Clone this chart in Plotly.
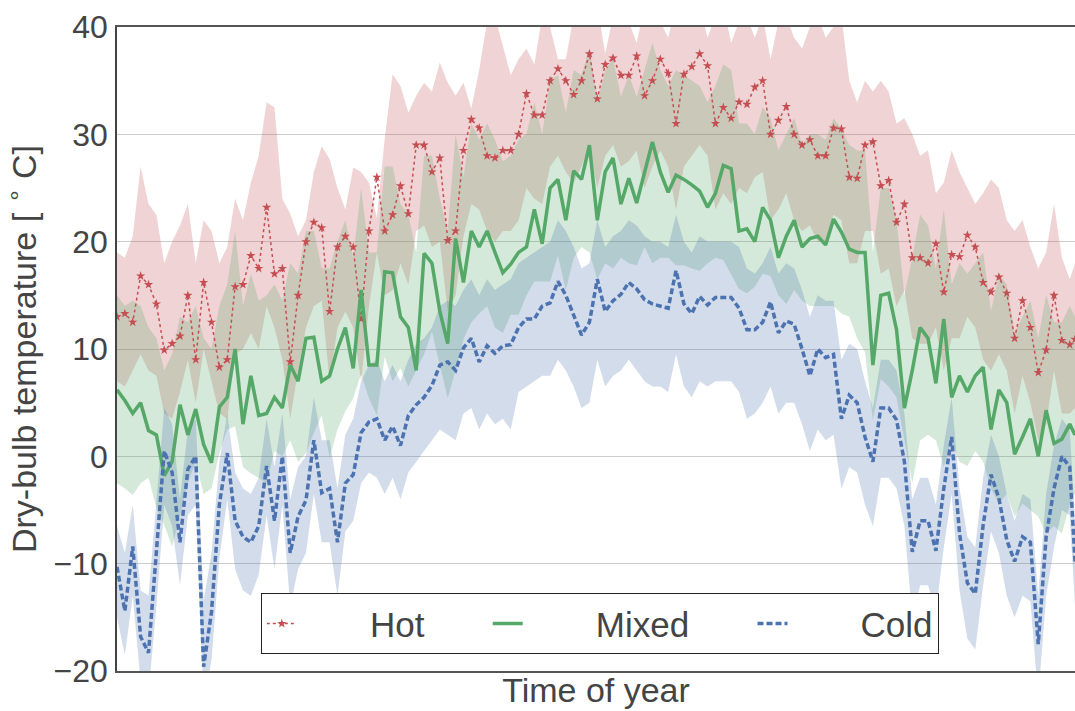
import plotly.graph_objects as go

# day of year for every sample (one reading every 3 days, last one on day 365)
days = list(range(0, 364, 3)) + [365]

hot_mean = [13.0, 13.3, 12.5, 16.8, 16.0, 14.2, 9.9, 10.5, 11.2, 15.0,
            9.0, 16.2, 12.5, 8.3, 9.0, 15.8, 16.0, 18.7, 17.5, 23.2,
            17.0, 17.5, 8.8, 15.0, 20.0, 21.8, 21.3, 13.5, 19.5, 20.5,
            19.5, 12.8, 21.0, 26.0, 21.0, 22.5, 25.2, 22.6, 29.0, 29.0,
            26.5, 27.8, 20.1, 21.0, 28.5, 31.4, 30.6, 28.0, 27.8, 28.5,
            28.5, 30.0, 33.8, 31.8, 31.8, 35.0, 36.1, 35.0, 33.7, 35.0,
            37.5, 33.3, 36.5, 37.1, 35.5, 35.5, 37.3, 33.6, 35.0, 37.0,
            35.7, 31.0, 35.6, 36.3, 37.5, 36.4, 31.0, 32.5, 31.5, 33.0,
            32.8, 34.4, 35.0, 30.0, 31.3, 32.6, 30.0, 29.0, 29.5, 28.0,
            28.0, 30.6, 30.5, 26.0, 25.9, 29.0, 29.3, 25.2, 25.7, 21.8,
            23.5, 18.5, 18.5, 18.0, 19.8, 15.3, 18.8, 18.6, 20.6, 19.5,
            16.2, 15.3, 16.7, 15.2, 11.0, 14.5, 12.0, 7.8, 9.9, 15.0,
            10.8, 10.4, 10.9]
hot_hi = [19, 18.5, 20.5, 27, 23.5, 22.5, 18, 20, 21.5, 23.5,
          18, 22, 21, 18, 19.5, 24, 22, 25.5, 28, 33,
          32.5, 24, 22.6, 20.5, 22, 26.5, 28.9, 27.7, 25, 23,
          26.9, 26.5, 25.5, 22.2, 29.6, 35.6, 34.5, 32, 33.6, 34.8,
          34, 36.7, 34.8, 33.6, 34.8, 32.4, 36, 40.5, 41, 38.3,
          35.5, 37, 38, 36.5, 41, 40, 37, 37, 41, 42,
          41, 42, 37.5, 41, 42, 40.5, 38.5, 42, 41, 40.5,
          39, 42, 40, 41.5, 42, 39, 41, 42, 38.5, 40.5,
          41, 39, 41, 37, 40.5, 41, 39, 38, 40, 41,
          39, 40, 41, 35, 33, 35, 34, 35, 34, 31,
          31.5, 30, 28, 28.5, 24.5, 25.5, 28.5, 26.5, 25, 23.5,
          24.5, 25.8, 25, 22, 21, 22, 19.5, 17.5, 19, 23.5,
          18.5, 16.5, 18]
hot_lo = [7, 6.5, 8, 9.5, 8, 7.5, 4, 3.5, 6, 9,
          5, 10, 7, 4, 3.5, 9.5, 10, 11.5, 10, 14,
          12, 9, 3.5, 8, 12, 14, 14.5, 7, 12, 13.5,
          12, 7, 14, 19, 15, 15.5, 18, 16, 21, 21.5,
          19.5, 20, 13.5, 15, 20.5, 23.5, 23, 21, 20, 21,
          21, 22, 25, 24, 23.5, 27, 28, 26.5, 25.5, 27,
          29, 25, 28, 29, 27, 27.5, 28.5, 25, 27, 28.5,
          27, 23, 27, 28, 29, 28, 23, 24.5, 23.5, 25,
          24.5, 26, 26.5, 22, 23, 24.5, 22, 21, 21.5, 20,
          20, 22.5, 22, 18, 18, 21, 21, 17, 17.5, 14,
          15.5, 11, 10.5, 10.5, 12, 8, 11, 11, 13, 12,
          9, 8, 9.5, 8, 4, 7.5, 5, 1.5, 3, 8,
          4, 4, 4.5]

mixed_mean = [6.2, 5.2, 4.0, 5.0, 2.4, 2.0, -1.8, -0.5, 4.8, 2.0,
              4.4, 1.1, -0.6, 4.6, 5.5, 10.0, 3.0, 7.5, 3.8, 4.0,
              5.5, 4.5, 8.5, 7.0, 11.0, 11.1, 7.0, 7.5, 10.0, 12.0,
              8.2, 15.5, 8.5, 8.5, 17.2, 17.1, 13.0, 12.0, 8.0, 18.9,
              18.0, 13.5, 10.5, 20.3, 16.2, 21.0, 19.5, 21.0, 19.0, 17.1,
              17.9, 19.0, 19.5, 23.0, 19.8, 25.0, 25.8, 22.0, 26.6, 25.8,
              29.0, 22.0, 26.5, 27.8, 23.5, 25.9, 23.6, 26.3, 29.3, 26.5,
              24.6, 26.2, 25.8, 25.3, 24.7, 23.2, 24.5, 27.1, 26.8, 21.0,
              21.2, 20.0, 23.2, 22.0, 18.5, 20.5, 22.0, 19.5, 20.3, 20.5,
              19.7, 22.1, 20.9, 19.3, 19.0, 19.0, 8.5, 15.0, 15.2, 11.8,
              4.5, 8.0, 12.0, 11.0, 6.8, 12.8, 5.5, 7.5, 6.0, 7.5,
              8.3, 2.5, 6.2, 5.0, 0.2, 1.8, 3.5, 0.0, 4.3, 1.2,
              1.6, 3.0, 2.0]
mixed_hi = [15, 14, 14.5, 14, 12, 11, 8, 9.5, 13, 12.5,
            14, 11, 10, 14, 16, 21, 14, 17, 14.5, 15,
            16, 14.5, 18, 17, 21, 21, 17.5, 17.5, 20, 22,
            18.5, 25, 19, 19, 27, 27, 23.5, 22.5, 19, 28,
            28, 24, 21, 30, 26, 31, 29.5, 31, 29.5, 27.5,
            28, 29.5, 30, 33, 30, 35, 35.5, 32, 36, 35.5,
            38, 33, 36, 37, 33.5, 35.5, 33.5, 36, 38.5, 36,
            34.5, 36, 35.5, 35, 34.5, 33, 34.5, 36.5, 36, 31,
            31, 30, 32.5, 31.5, 28.5, 30, 31.5, 29, 30, 30,
            29.5, 31.5, 30.5, 29, 28.5, 28.5, 19, 25, 25, 22,
            15, 18.5, 22.5, 21.5, 17.5, 23, 16, 18, 17, 18,
            19, 13.5, 17, 16, 11.5, 13, 14.5, 11, 15, 12.5,
            12.5, 14, 13]
mixed_lo = [-2.5, -3.0, -3.6, -2.5, -2.0, -4.8, -6.4, -8.4, -5.6, -2.5,
            -0.5, -3.5, -3.0, 0.3, 2.5, 2.8, -1.0, -1.6, -2.0, -2.5,
            0.5, 0.0, 1.5, -0.5, 0.3, 2.2, 3.8, -0.1, 2.5, 4.2,
            5.4, 7.7, 5.4, 3.8, 9.3, 7.0, 8.2, 6.5, 8.0, 9.5,
            11.6, 8.5, 5.4, 8.0, 10.9, 12.5, 13.3, 14.0, 12.0, 11.5,
            13.2, 13.2, 15.0, 16.3, 16.3, 16.3, 18.7, 15.5, 18.5, 19.5,
            19.0, 16.5, 18.0, 17.5, 18.5, 18.0, 17.8, 19.5, 18.0, 18.5,
            18.5, 17.8, 17.8, 17.5, 17.3, 18.0, 18.5, 18.3, 17.0, 15.6,
            15.2, 15.8, 17.0, 16.8, 15.0, 14.2, 15.5, 14.5, 14.0, 14.0,
            14.0, 14.0, 13.3, 13.0, 11.0, 9.7, 3.4, 7.2, 6.5, 5.5,
            1.5, -2.5, 1.5, 2.0, 1.5, -1.0, 1.5, -0.5, -0.9, 0.5,
            -0.5, -3.0, -4.4, -3.5, -5.6, -4.4, -5.0, -5.6, -7.2, -6.5,
            -7.2, -4.5, -3.5]

cold_mean = [-10.3, -14.4, -8.4, -16.8, -18.3, -9.0, 0.5, -1.5, -8.0, -1.2,
             0.0, -19.6, -14.5, -4.5, 0.3, -6.0, -7.5, -8.0, -6.5, -0.9,
             -6.0, 0.0, -9.0, -5.6, -4.1, 1.5, -3.4, -3.0, -8.0, -2.5,
             -1.7, 2.2, 3.2, 3.5, 1.5, 2.8, 1.0, 3.8, 4.8, 5.5,
             6.6, 8.5, 8.8, 8.0, 10.1, 11.0, 8.8, 10.3, 9.6, 10.3,
             10.4, 12.0, 12.8, 12.8, 14.0, 14.3, 16.3, 15.0, 13.2, 11.3,
             12.5, 16.5, 13.5, 14.5, 15.1, 16.2, 15.6, 14.6, 14.2, 14.0,
             13.8, 17.3, 14.2, 13.3, 14.9, 14.1, 14.8, 14.8, 14.8, 13.8,
             11.8, 11.8, 12.5, 14.4, 11.5, 12.6, 12.3, 10.0, 7.5, 10.0,
             9.2, 9.5, 3.5, 5.7, 5.0, 1.8, -0.5, 4.5, 4.5, 3.4,
             -0.5, -8.9, -6.0, -6.0, -8.8, -3.0, 1.8, -7.2, -11.8, -12.8,
             -6.4, -1.7, -3.9, -7.8, -9.8, -7.5, -8.0, -17.5, -7.5, -3.0,
             0.0, -1.0, -9.8]
cold_hi = [-6.5, -9, -4.5, -12.5, -13, -4.5, 4.5, 3, -4, 2.5,
           3.5, -13.5, -9, -0.5, 4, -1.5, -3, -3.5, -2, 3.5,
           -1, 4, -4, -1, 0, 5.5, 1.5, 1.5, -3, 2,
           3.5, 7, 8.5, 9, 7, 8.5, 7, 9, 10.5, 11,
           12, 14, 14.5, 14, 15.5, 16.5, 15, 16.5, 15.5, 16,
           16.5, 18, 18.5, 19, 19.5, 20, 22, 21, 19.5, 17.5,
           18, 22, 19.5, 20.5, 21, 22, 21.5, 20.5, 20, 20,
           19.5, 22.5, 20, 19, 20.5, 20, 20, 20, 20, 19.5,
           17.5, 17, 18, 19.5, 17, 18, 17.5, 15.5, 13, 15,
           14.5, 14.5, 9, 10.5, 10, 7, 4.5, 9, 9, 8,
           4, -4, -2, -2, -4.5, 1, 5.5, -3, -7.5, -8.5,
           -2, 2, 0, -3.5, -6, -3.5, -4, -13, -3.5, 1,
           3.5, 2.5, -6]
cold_lo = [-15, -18.5, -13, -21, -22, -14, -4.5, -6.5, -12, -5.5,
           -4.5, -23, -19, -9.5, -4, -10.5, -12.5, -13, -11, -5.5,
           -10.5, -4.5, -14, -10.5, -9, -3.5, -8, -8, -13, -7,
           -6, -2.5, -1.5, -2, -3.5, -2, -4, -1.5, -0.5, 0.5,
           1.5, 2.5, 2, 1.5, 4, 4.5, 2.5, 4, 3, 3.5,
           2.5, 6, 6.5, 7, 7.5, 7.5, 9, 8, 6.5, 4.5,
           5, 9, 6.5, 7.5, 8, 9, 8, 7, 6.5, 6.5,
           6, 9.5, 6.5, 5.5, 7, 6.5, 7, 7, 7, 6,
           3.5, 4, 5, 6.5, 4, 5, 5, 3, 0.5, 2.5,
           1.5, 2, -3, -1, -1.5, -4.5, -6.5, -2, -2, -3,
           -6.5, -15, -12, -12, -14.5, -8.5, -3.5, -12.5, -17, -18,
           -12, -7, -9, -13, -15, -13, -13.5, -22.5, -13, -8.5,
           -5, -5.5, -14]

yticks = [-20, -10, 0, 10, 20, 30, 40]

RED = "#C44E52"
GREEN = "#55A868"
BLUE = "#4C72B0"
NB = "\u00a0"  # non-breaking spaces keep the wide legend spacing of the original

fig = go.Figure()

# shaded min/max bands
for hi, lo, fillc in [(hot_hi, hot_lo, "rgba(196,78,82,0.25)"),
                      (mixed_hi, mixed_lo, "rgba(85,168,104,0.25)"),
                      (cold_hi, cold_lo, "rgba(76,114,176,0.25)")]:
    fig.add_trace(go.Scatter(x=days + days[::-1], y=hi + lo[::-1],
                             fill="toself", fillcolor=fillc, mode="lines",
                             line=dict(width=0), showlegend=False, hoverinfo="skip"))

fig.add_trace(go.Scatter(x=days, y=hot_mean, name=NB * 7 + "Hot" + NB * 6,
                         mode="lines+markers",
                         line=dict(color=RED, width=1.5, dash="dot"),
                         marker=dict(symbol="star", size=7, color=RED)))
fig.add_trace(go.Scatter(x=days, y=mixed_mean, name=NB * 7 + "Mixed" + NB * 6,
                         mode="lines", line=dict(color=GREEN, width=3.5)))
fig.add_trace(go.Scatter(x=days, y=cold_mean, name=NB * 7 + "Cold",
                         mode="lines", line=dict(color=BLUE, width=3.5, dash="6px,3px")))

fig.update_layout(
    width=1075, height=711,
    margin=dict(l=117, r=0, t=27, b=40),
    plot_bgcolor="white", paper_bgcolor="white",
    font=dict(family="Liberation Sans, Arial, sans-serif", color="#444444", size=33),
    legend=dict(orientation="h", x=0.504, xanchor="center", y=0.026, yanchor="bottom",
                bgcolor="white", bordercolor="#222222", borderwidth=1,
                font=dict(size=35, color="#444444")),
)
fig.update_xaxes(range=[0, 365], showticklabels=False, ticks="", showgrid=False,
                 zeroline=False, showline=True, mirror=True, linecolor="#555555",
                 linewidth=1.5, automargin=False,
                 title=dict(text="Time of year", standoff=6, font=dict(size=34)))
fig.update_yaxes(range=[-20, 40], tickvals=yticks, showgrid=True, gridcolor="#cccccc",
                 gridwidth=1, zeroline=False, showline=True, linecolor="#444444",
                 linewidth=1.5, ticks="", ticklabelstandoff=1, automargin=False,
                 tickfont=dict(size=32, color="#444444"),
                 title=dict(text="Dry-bulb temperature [ <sup>∘</sup> C]", standoff=8,
                            font=dict(size=34)))

# drop the page's default body margin so the figure sits at the window's corner
fig.write_html("out.html", config={"displayModeBar": False},
               post_script="document.body.style.margin='0';")
